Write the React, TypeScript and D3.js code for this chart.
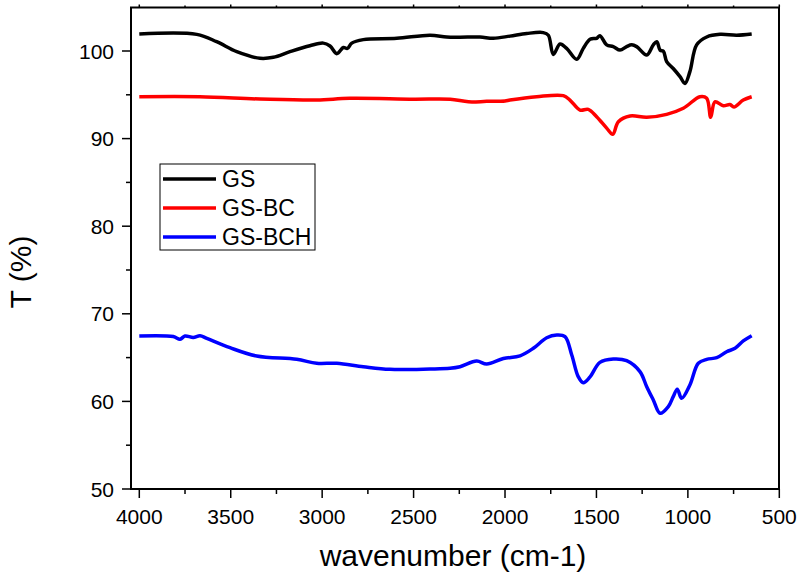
import React, { useEffect, useRef } from "react";
import * as d3 from "d3";

// wavenumber (cm-1) and transmittance (%)
const gsWave = [4000, 3686, 3577, 3467, 3340, 3267, 3176, 3067, 2994, 2957, 2920, 2884, 2862, 2838, 2775, 2592, 2410, 2319, 2246, 2137, 2064, 1973, 1881, 1791, 1763, 1736, 1699, 1663, 1608, 1572, 1535, 1499, 1481, 1444, 1408, 1371, 1335, 1307, 1280, 1225, 1189, 1170, 1152, 1134, 1116, 1080, 1043, 1016, 989, 952, 897, 824, 733, 651];
const gsT = [101.94, 101.9, 101.06, 99.92, 99.17, 99.28, 99.92, 100.6, 100.9, 100.57, 99.7, 100.4, 100.3, 100.9, 101.3, 101.45, 101.8, 101.6, 101.58, 101.6, 101.45, 101.7, 102.0, 102.1, 101.8, 99.6, 100.8, 100.3, 99.05, 100.3, 101.34, 101.45, 101.75, 100.7, 100.5, 100.1, 100.5, 100.7, 100.5, 99.54, 100.7, 101.06, 100.1, 99.98, 98.8, 98.0, 97.07, 96.3, 97.64, 100.7, 101.6, 101.9, 101.8, 101.94];

const bcWave = [4000, 3670, 3340, 3030, 2850, 2500, 2300, 2200, 2100, 2000, 1973, 1827, 1681, 1645, 1590, 1545, 1499, 1444, 1411, 1380, 1316, 1225, 1116, 1025, 934, 897, 875, 852, 806, 770, 748, 697, 651];
const bcT = [94.78, 94.78, 94.52, 94.4, 94.6, 94.5, 94.5, 94.2, 94.25, 94.3, 94.4, 94.78, 94.9, 94.4, 93.26, 93.34, 92.5, 91.2, 90.5, 91.93, 92.58, 92.43, 92.77, 93.46, 94.78, 94.6, 92.43, 94.2, 93.75, 93.9, 93.6, 94.4, 94.78];

const bchWave = [4000, 3814, 3777, 3750, 3705, 3668, 3631, 3504, 3358, 3139, 3030, 2920, 2775, 2629, 2410, 2301, 2246, 2155, 2100, 2009, 1918, 1845, 1772, 1717, 1672, 1635, 1599, 1572, 1535, 1481, 1408, 1335, 1262, 1225, 1189, 1152, 1107, 1080, 1058, 1034, 989, 943, 897, 842, 788, 742, 697, 651];
const bchT = [67.47, 67.4, 67.1, 67.47, 67.3, 67.5, 67.2, 66.13, 65.18, 64.8, 64.35, 64.35, 63.96, 63.66, 63.7, 63.78, 63.96, 64.6, 64.27, 64.9, 65.2, 66.06, 67.27, 67.58, 67.4, 65.3, 62.8, 62.13, 62.8, 64.46, 64.84, 64.65, 63.4, 61.68, 60.16, 58.64, 59.4, 60.54, 61.4, 60.35, 61.87, 64.35, 64.8, 64.99, 65.67, 66.06, 66.9, 67.5];

const seriesNames = ["GS", "GS-BC", "GS-BCH"];
const seriesColors = ["#000000", "#ff0000", "#0000ff"];
const xTicks = [4000, 3500, 3000, 2500, 2000, 1500, 1000, 500];
const yTicks = [50, 60, 70, 80, 90, 100];

const App = () => {
  const svgRef = useRef<SVGSVGElement>(null);

  useEffect(() => {
    const W = 802;
    const H = 581;
    const left = 131;
    const right = 779;
    const top = 7.5;
    const bottom = 489;
    const font = "'Liberation Sans', Arial, sans-serif";

    const svg = d3.select(svgRef.current);
    svg.selectAll("*").remove();
    svg.attr("width", W).attr("height", H);

    const x = d3.scaleLinear().domain([4000, 500]).range([139.3, 779.3]);
    const y = d3.scaleLinear().domain([50, 105]).range([bottom, bottom - 55 * 8.76]);

    const minorX = d3.range(3750, 500, -500);
    const minorY = d3.range(55, 105, 10);

    // frame
    svg
      .append("rect")
      .attr("x", left)
      .attr("y", top)
      .attr("width", right - left)
      .attr("height", bottom - top)
      .attr("fill", "none")
      .attr("stroke", "#000")
      .attr("stroke-width", 2);

    const g = svg.append("g").attr("stroke", "#000").attr("stroke-width", 1.5);
    xTicks.forEach((t) => {
      g.append("line").attr("x1", x(t)).attr("x2", x(t)).attr("y1", bottom).attr("y2", bottom + 9);
      g.append("line").attr("x1", x(t)).attr("x2", x(t)).attr("y1", top).attr("y2", top - 3);
    });
    minorX.forEach((t) => {
      g.append("line").attr("x1", x(t)).attr("x2", x(t)).attr("y1", bottom).attr("y2", bottom + 5);
      g.append("line").attr("x1", x(t)).attr("x2", x(t)).attr("y1", top).attr("y2", top - 2);
    });
    yTicks.forEach((t) => {
      g.append("line").attr("x1", left).attr("x2", left - 9).attr("y1", y(t)).attr("y2", y(t));
    });
    minorY.forEach((t) => {
      g.append("line").attr("x1", left).attr("x2", left - 5).attr("y1", y(t)).attr("y2", y(t));
    });

    svg
      .append("g")
      .selectAll("text")
      .data(xTicks)
      .enter()
      .append("text")
      .attr("x", (d) => x(d))
      .attr("y", 524)
      .attr("text-anchor", "middle")
      .attr("font-family", font)
      .attr("font-size", 21)
      .text((d) => d);

    svg
      .append("g")
      .selectAll("text")
      .data(yTicks)
      .enter()
      .append("text")
      .attr("x", 114)
      .attr("y", (d) => y(d) + 7.5)
      .attr("text-anchor", "end")
      .attr("font-family", font)
      .attr("font-size", 21)
      .text((d) => d);

    svg
      .append("text")
      .attr("x", 453)
      .attr("y", 566)
      .attr("text-anchor", "middle")
      .attr("font-family", font)
      .attr("font-size", 30)
      .text("wavenumber (cm-1)");

    svg
      .append("text")
      .attr("transform", "translate(31,272) rotate(-90)")
      .attr("text-anchor", "middle")
      .attr("font-family", font)
      .attr("font-size", 30)
      .text("T (%)");

    const line = d3
      .line<[number, number]>()
      .x((d) => x(d[0]))
      .y((d) => y(d[1]))
      .curve(d3.curveCatmullRom.alpha(0.5));

    const series = [
      d3.zip(gsWave, gsT),
      d3.zip(bcWave, bcT),
      d3.zip(bchWave, bchT),
    ] as [number, number][][];

    series.forEach((s, i) => {
      svg
        .append("path")
        .datum(s)
        .attr("d", line)
        .attr("fill", "none")
        .attr("stroke", seriesColors[i])
        .attr("stroke-width", 3.5)
        .attr("stroke-linejoin", "round");
    });

    // legend
    const lg = svg.append("g").attr("transform", "translate(160,164)");
    lg.append("rect")
      .attr("width", 155)
      .attr("height", 86)
      .attr("fill", "#fff")
      .attr("stroke", "#000")
      .attr("stroke-width", 1);
    seriesNames.forEach((n, i) => {
      const cy = 15 + i * 29;
      lg.append("line")
        .attr("x1", 3)
        .attr("x2", 56)
        .attr("y1", cy)
        .attr("y2", cy)
        .attr("stroke", seriesColors[i])
        .attr("stroke-width", 3.5);
      lg.append("text")
        .attr("x", 62)
        .attr("y", cy + 8)
        .attr("font-family", font)
        .attr("font-size", 23)
        .text(n);
    });
  }, []);

  return <svg ref={svgRef} style={{ position: "absolute", left: 0, top: 0 }}></svg>;
};

export default App;
